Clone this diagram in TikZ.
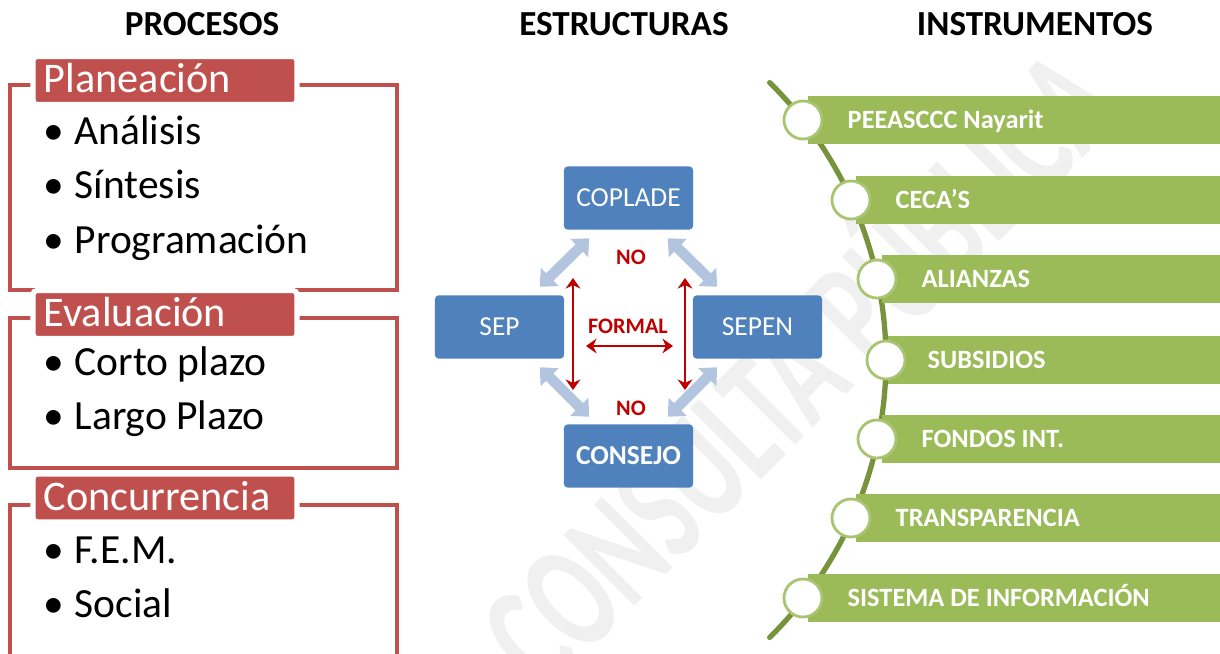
\documentclass[tikz,border=0pt]{standalone}
\usepackage{fontspec}
\setmainfont{Carlito}
\usepackage{tikz}
\usetikzlibrary{calc,arrows.meta,positioning}
\definecolor{tabred}{HTML}{C0504D}
\definecolor{boxblue}{HTML}{4F81BD}
\definecolor{paleblue}{HTML}{B3C4DF}
\definecolor{nored}{HTML}{C00000}
\definecolor{leaf}{HTML}{9BBB59}
\definecolor{vinegreen}{HTML}{77933C}
\definecolor{wmgray}{HTML}{F0F0F0}
\tikzset{
  head/.style={font=\fontsize{10}{12}\selectfont\bfseries, text height=6.4pt, text depth=0pt, inner sep=0pt},
  frame/.style={draw=tabred, line width=0.9pt},
  tab/.style={fill=tabred, draw=white, line width=1.5pt, rounded corners=1.2pt, minimum width=2.64cm, minimum height=0.38cm, text width=2.42cm, inner xsep=0.11cm, align=flush left, text=white, font=\fontsize{12}{14}\selectfont, text height=7pt, text depth=0pt},
  item/.style={anchor=base west, inner sep=0pt, font=\fontsize{11.8}{14}\selectfont},
  org/.style={fill=boxblue, rounded corners=1pt, minimum width=1.29cm, minimum height=0.63cm, text=white, font=\fontsize{7.8}{9}\selectfont, text height=5pt, text depth=0pt},
  link/.style={draw=paleblue, line width=3pt, <->, >={Triangle[length=4pt,width=7pt]}},
  rel/.style={draw=nored, line width=0.8pt, <->, >={Stealth[length=3pt,width=4.2pt]}},
  tag/.style={text=nored, font=\fontsize{6.3}{7}\selectfont\bfseries, inner sep=0pt},
  vine/.style={draw=vinegreen, line width=1.5pt, line cap=round},
  bar/.style={fill=leaf, anchor=west, minimum height=0.48cm, text width=4cm, inner xsep=0.4cm, align=flush left, text=white, font=\fontsize{7.5}{9}\selectfont\bfseries, text height=4.8pt, text depth=0pt},
  knot/.style={circle, fill=white, draw=leaf!85!white, line width=0.8pt, minimum size=0.38cm, inner sep=0pt},
  wm/.style={text=wmgray, font=\fontsize{44}{48}\selectfont\bfseries, inner sep=0pt},
}

\begin{document}
\begin{tikzpicture}[x=0.01cm, y=-0.01cm]
  \useasboundingbox (0,0) rectangle (1220,654);

  % watermark
  \node[wm, rotate=45] (wmark) at (790,360) {\scalebox{0.65}[1]{CONSULTA PÚBLICA}};

  % headings
  \node[head] (procesos) at (202,24.5) {PROCESOS};
  \node[head] (estructuras) at (624,24.5) {ESTRUCTURAS};
  \node[head] (instrumentos) at (1035,24.5) {INSTRUMENTOS};

  % procesos
  \draw[frame] (10,85) rectangle (397,290);
  \draw[frame] (10,318) rectangle (397,468);
  \draw[frame] (10,505) rectangle (397,680);
  \node[tab] (plan) at (165,80.5) {Planeación};
  \node[tab] (eval) at (165,314.5) {Evaluación};
  \node[tab] (conc) at (165,498) {Concurrencia};
  \node[item] (an) at (43,144) {\makebox[0.31cm][l]{\textbullet}Análisis};
  \node[item] (si) at (43,198.5) {\makebox[0.31cm][l]{\textbullet}Síntesis};
  \node[item] (pr) at (43,253) {\makebox[0.31cm][l]{\textbullet}Programación};
  \node[item] (cp) at (43,375) {\makebox[0.31cm][l]{\textbullet}Corto plazo};
  \node[item] (lp) at (43,429) {\makebox[0.31cm][l]{\textbullet}Largo Plazo};
  \node[item] (fem) at (43,563) {\makebox[0.31cm][l]{\textbullet}F.E.M.};
  \node[item] (soc) at (43,617) {\makebox[0.31cm][l]{\textbullet}Social};

  % estructuras
  \node[org] (coplade) at (628.5,198) {COPLADE};
  \node[org] (sep) at (499.5,327) {SEP};
  \node[org] (sepen) at (757.5,327) {SEPEN};
  \node[org] (consejo) at (628.5,456) {\bfseries CONSEJO};
  \draw[link] ([shift={(-25,-8)}]sep.north east) -- ([shift={(26,8)}]coplade.south west);
  \draw[link] ([shift={(-26,8)}]coplade.south east) -- ([shift={(25,-8)}]sepen.north west);
  \draw[link] ([shift={(-25,8)}]sep.south east) -- ([shift={(26,-7)}]consejo.north west);
  \draw[link] ([shift={(-26,-7)}]consejo.north east) -- ([shift={(25,8)}]sepen.south west);
  \node[tag] (noup) at (631,257) {NO};
  \node[tag] (formal) at (628,326) {FORMAL};
  \node[tag] (nodown) at (631,408) {NO};
  \coordinate (la) at (573,278);
  \coordinate (lb) at (573,390);
  \coordinate (ra) at (685,278);
  \coordinate (rb) at (685,390);
  \coordinate (fa) at (586,346);
  \coordinate (fb) at (673,346);
  \draw[rel] (la) -- (lb);
  \draw[rel] (ra) -- (rb);
  \draw[rel] (fa) -- (fb);

  % instrumentos
  \draw[vine] ([shift={(-45.5:389)}]497,360) arc[start angle=-45.5, end angle=45.5, radius=389];
  \node[bar] (b1) at (807,120) {PEEASCCC Nayarit};
  \node[bar] (b2) at (855,200) {CECA’S};
  \node[bar] (b3) at (881,279) {ALIANZAS};
  \node[bar] (b4) at (887,360) {SUBSIDIOS};
  \node[bar] (b5) at (881,439) {FONDOS INT.};
  \node[bar] (b6) at (855,518) {TRANSPARENCIA};
  \node[bar] (b7) at (807,598) {SISTEMA DE INFORMACIÓN};
  \node[knot] (c1) at (803,120) {};
  \node[knot] (c2) at (851,200) {};
  \node[knot] (c3) at (877,279) {};
  \node[knot] (c4) at (886,360) {};
  \node[knot] (c5) at (877,439) {};
  \node[knot] (c6) at (851,518) {};
  \node[knot] (c7) at (803,598) {};
\end{tikzpicture}
\end{document}
